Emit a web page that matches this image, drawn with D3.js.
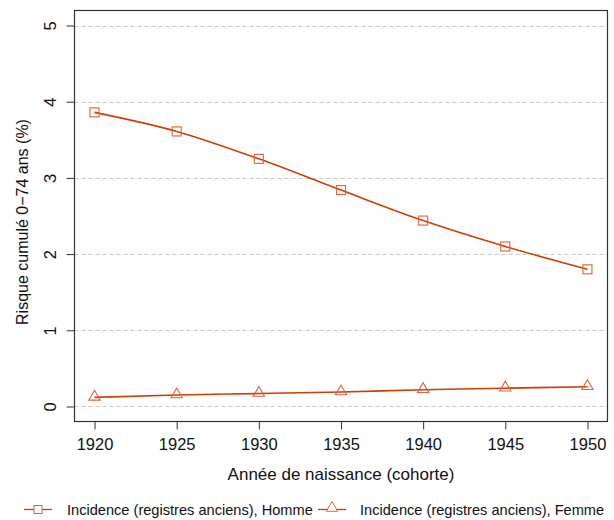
<!DOCTYPE html>
<html><head><meta charset="utf-8">
<script src="https://cdn.jsdelivr.net/npm/d3@7"></script>
<style>body{margin:0;background:#fff}text{font-family:"Liberation Sans",Arial,sans-serif;fill:#111}</style>
</head><body><svg id="c" width="614" height="520"></svg>
<script>
const years = [1920, 1925, 1930, 1935, 1940, 1945, 1950];
const homme = [3.86, 3.61, 3.25, 2.84, 2.44, 2.10, 1.80];
const femme = [0.12, 0.15, 0.17, 0.19, 0.22, 0.24, 0.26];
const yTicks = [0, 1, 2, 3, 4, 5];
const seriesNames = ["Incidence (registres anciens), Homme", "Incidence (registres anciens), Femme"];
const xTitle = "Année de naissance (cohorte)";
const yTitle = "Risque cumulé 0\u221274 ans (%)";

const lineColor = "#cc3f00", markColor = "#e2603a";
const FONT = '"Liberation Sans",Arial,sans-serif';
const svg = d3.select("#c");
const L = 74.5, R = 607.5, T = 10.5, B = 421.5;
const x = d3.scaleLinear().domain([1918.78, 1951.22]).range([L, R]);
const y = d3.scaleLinear().domain([-0.197, 5.197]).range([B, T]);

// grid
svg.append("g").selectAll("line").data(yTicks).join("line")
  .attr("x1", L).attr("x2", R).attr("y1", d => Math.round(y(d)) + 0.5).attr("y2", d => Math.round(y(d)) + 0.5)
  .attr("stroke", "#c8c8c8").attr("stroke-dasharray", "4,3");

// axes
const xa = svg.append("g").attr("transform", `translate(0,${B})`)
  .call(d3.axisBottom(x).tickValues(years).tickFormat(d3.format("d")).tickSize(8).tickSizeOuter(0));
xa.select(".domain").remove();
xa.selectAll("line").attr("stroke", "#333");
xa.selectAll("text").attr("y", 0).attr("dy", 0).attr("transform", "translate(0,28)")
  .style("font-size", "16.5px").style("font-family", FONT).attr("fill", "#111");

const ya = svg.append("g").attr("transform", `translate(${L},0)`)
  .call(d3.axisLeft(y).tickValues(yTicks).tickFormat(d3.format("d")).tickSize(8).tickSizeOuter(0));
ya.select(".domain").remove();
ya.selectAll("line").attr("stroke", "#333");
ya.selectAll("text").attr("x", 0).attr("dy", 0)
  .attr("text-anchor", "middle")
  .attr("transform", "translate(-18.5,0) rotate(-90)")
  .style("font-size", "16.5px").style("font-family", FONT).attr("fill", "#111");

// box
svg.append("rect").attr("x", L).attr("y", T).attr("width", R - L).attr("height", B - T)
  .attr("fill", "none").attr("stroke", "#333").attr("stroke-width", 1.2);

// lines
const line = d3.line().x(d => x(d[0])).y(d => y(d[1])).curve(d3.curveMonotoneX);
[homme, femme].forEach((vals, i) => {
  const pts = years.map((yr, j) => [yr, vals[j]]);
  svg.append("path").attr("d", line(pts)).attr("fill", "none").attr("stroke", lineColor).attr("stroke-width", 1.6);
  const g = svg.append("g");
  if (i === 0) {
    g.selectAll("rect").data(pts).join("rect")
      .attr("x", d => x(d[0]) - 4.5).attr("y", d => y(d[1]) - 4.5).attr("width", 9).attr("height", 9)
      .attr("fill", "none").attr("stroke", markColor).attr("stroke-width", 1.1);
  } else {
    g.selectAll("path").data(pts).join("path")
      .attr("d", d3.symbol(d3.symbolTriangle, 55)())
      .attr("transform", d => `translate(${x(d[0])},${y(d[1]) - 0.5})`)
      .attr("fill", "none").attr("stroke", markColor).attr("stroke-width", 1.1);
  }
});

// titles
svg.append("text").attr("x", (L + R) / 2).attr("y", 480).attr("text-anchor", "middle").style("font-size", "17px").text(xTitle);
svg.append("text").attr("transform", `translate(28,${(T + B) / 2 + 6}) rotate(-90)`).attr("text-anchor", "middle").style("font-size", "16px").text(yTitle);

// legend
const leg = [{x0: 24, tx: 67, sym: "sq"}, {x0: 318, tx: 360, sym: "tri"}];
leg.forEach((l, i) => {
  const ly = 509.5;
  svg.append("line").attr("x1", l.x0).attr("x2", l.x0 + 28).attr("y1", ly).attr("y2", ly).attr("stroke", lineColor).attr("stroke-width", 1.3);
  if (l.sym === "sq") {
    svg.append("rect").attr("x", l.x0 + 10).attr("y", ly - 4).attr("width", 8).attr("height", 8).attr("fill", "#fff").attr("stroke", markColor);
  } else {
    svg.append("path").attr("d", d3.symbol(d3.symbolTriangle, 55)()).attr("transform", `translate(${l.x0 + 14},${ly - 1.5})`).attr("fill", "#fff").attr("stroke", markColor);
  }
  svg.append("text").attr("x", l.tx).attr("y", ly + 5.5).style("font-size", "14.6px").text(seriesNames[i]);
});
</script></body></html>
